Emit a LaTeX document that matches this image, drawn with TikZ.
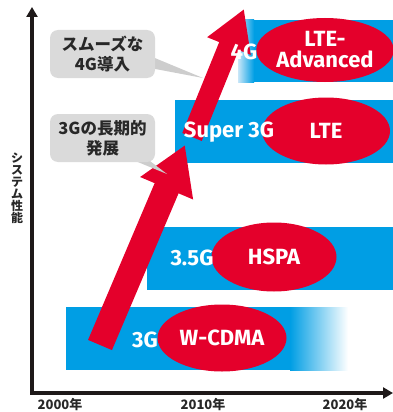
\documentclass[tikz,border=0pt]{standalone}
\usepackage{fontspec}
\setmainfont{Fira Sans}
\newfontfamily\jp{Noto Sans CJK JP}
\usetikzlibrary{arrows.meta,shapes.geometric}
\definecolor{barblue}{RGB}{0,158,228}
\definecolor{lightbar}{RGB}{200,230,248}
\definecolor{ovred}{RGB}{228,0,43}
\definecolor{boxgray}{RGB}{218,218,218}
\definecolor{wedgegray}{RGB}{205,205,205}
\definecolor{axisblack}{RGB}{30,25,25}
\definecolor{txtdark}{RGB}{40,40,40}
\tikzset{
  oval/.style={ellipse, fill=ovred, inner sep=0pt, text=white, font=\bfseries\fontsize{22}{21}\selectfont, align=center},
  lbl/.style={text=white, inner sep=0pt, font=\bfseries\fontsize{22}{21}\selectfont},
  callout/.style={fill=boxgray, rounded corners=8pt, minimum width=105pt, minimum height=48pt, inner sep=0pt, text=txtdark, align=center, font=\jp\bfseries\fontsize{16.5}{20}\selectfont},
  year/.style={inner sep=0pt, text=txtdark, font=\jp\bfseries\fontsize{13}{13}\selectfont},
  axis/.style={draw=axisblack, line width=3.5pt, -{Triangle[length=10pt 0, width=11pt 0]}}
}
\begin{document}
\begin{tikzpicture}[x=1pt,y=-1pt]
\useasboundingbox (0,0) rectangle (393,412);
% bars
\fill[barblue] (66,307) rectangle (291,370);
\shade[left color=barblue, right color=white] (290,307) rectangle (348,370);
\fill[barblue] (147,227) rectangle (393,290);
\fill[barblue] (175,100) rectangle (393,163);
\fill[barblue] (253,20) rectangle (393,82);
\shade[left color=lightbar, right color=barblue] (238,20) rectangle (254,82);
% ovals
\node[oval, minimum width=129pt, minimum height=67pt] (wcdma) at (222,338) {W-CDMA};
\node[oval, minimum width=125pt, minimum height=69pt] (hspa) at (274,257) {HSPA};
\node[oval, minimum width=128pt, minimum height=67pt] (lte) at (326,131) {LTE};
\node[oval, minimum width=126pt, minimum height=64pt] (ltea) at (325,50) {LTE-\\Advanced};
% axes
\coordinate (origin) at (32,393);
\coordinate (ytop) at (32,7);
\coordinate (xend) at (393,393);
\draw[axis] (origin) -- (ytop);
\draw[axis] ([xshift=-1.75pt]origin) -- (xend);
% big red arrows
\coordinate (a1s) at (100,345);
\coordinate (a1e) at (185,145);
\coordinate (a2s) at (192,137);
\coordinate (a2e) at (244,9);
\draw[ovred, line width=26pt, -{Triangle[length=47pt 0, width=54pt 0]}] (a1s) -- (a1e);
\draw[ovred, line width=21pt, -{Triangle[length=40pt 0, width=44pt 0]}] (a2s) -- (a2e);
% generation labels
\node[lbl] (g3) at (145,340) {3G};
\node[lbl] (g35) at (192,258) {3.5G};
\node[lbl] (gs3) at (229,132) {Super 3G};
\node[lbl] (g4) at (244,52) {4G};
% callouts
\coordinate (p1) at (203,78);
\coordinate (p2) at (167,174);
\fill[wedgegray] (150,56) -- (p1) -- (150,68) -- cycle;
\fill[wedgegray] (128,158) -- (p2) -- (146,158) -- cycle;
\node[callout] (c1) at (102.5,54) {スムーズな\\4G導入};
\node[callout] (c2) at (102.5,138) {3Gの長期的\\発展};
% axis labels
\node[inner sep=0pt, text=txtdark, align=center, font=\jp\bfseries\fontsize{12}{12}\selectfont] (ylab) at (17,188) {シ\\ス\\テ\\ム\\性\\能};
\node[year] (y2000) at (60,405) {2000年};
\node[year] (y2010) at (203,405) {2010年};
\node[year] (y2020) at (345,405) {2020年};
\end{tikzpicture}
\end{document}
